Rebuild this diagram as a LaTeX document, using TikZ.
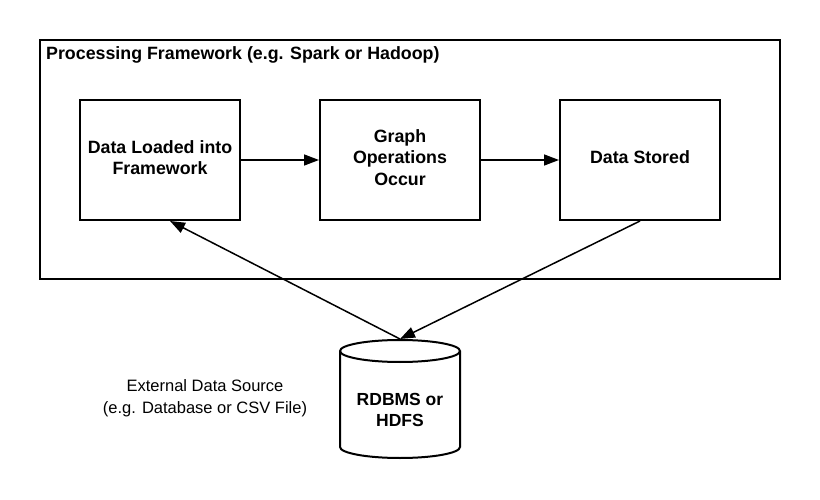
\documentclass[tikz,border=0pt]{standalone}
\usepackage{fontspec}
\setmainfont{Liberation Sans}
\usetikzlibrary{arrows.meta}
\tikzset{
  box/.style={draw, line width=2pt, minimum width=160pt, minimum height=120pt, align=center, font=\fontsize{17.8}{21.5}\selectfont\bfseries, inner sep=0pt, text depth=5pt},
  conn/.style={line width=1.5pt, -{Triangle[length=15pt,width=11pt]}},
}
\begin{document}
\begin{tikzpicture}[x=1pt,y=1pt]
\useasboundingbox (0,0) rectangle (820,-500);
\node[draw, line width=2pt, minimum width=740pt, minimum height=239pt, inner sep=0pt] (frame) at (410,-159.5) {};
\node[anchor=base west, font=\fontsize{17.8}{20}\selectfont\bfseries, inner sep=0pt] (title) at (46,-59.5) {Processing Framework (e.g. Spark or Hadoop)};
\node[box] (b1) at (160,-160) {Data Loaded into\\Framework};
\node[box] (b2) at (400,-160) {Graph\\Operations\\Occur};
\node[box] (b3) at (640,-160) {Data Stored};
% cylinder
\draw[line width=2pt, fill=white] (340,-351) -- (340,-447) arc (180:360:60pt and 11pt) -- (460,-351) arc (0:180:60pt and 11pt) -- cycle;
\draw[line width=2pt] (340,-351) arc (180:360:60pt and 11pt);
\coordinate (dbtop) at (400,-339);
\node[align=center, font=\fontsize{17.5}{21}\selectfont\bfseries, inner sep=0pt] (db) at (400,-409.5) {RDBMS or\\HDFS};
\node[align=center, font=\fontsize{16.5}{22}\selectfont, inner sep=0pt] (ext) at (205,-398) {External Data Source\\(e.g. Database or CSV File)};
\draw[conn] (b1) -- (b2);
\draw[conn] (b2) -- (b3);
\draw[conn] (dbtop) -- ([xshift=10pt]b1.south);
\draw[conn] (b3.south) -- (dbtop);
\end{tikzpicture}
\end{document}
